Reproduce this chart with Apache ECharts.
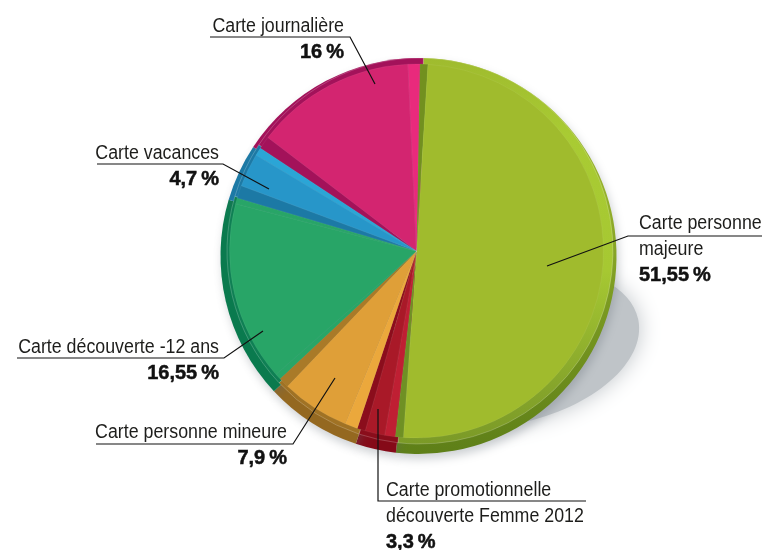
<!DOCTYPE html>
<html>
<head>
<meta charset="utf-8">
<style>html,body{margin:0;padding:0;background:#fff}#chart{width:763px;height:550px}</style>
<script src="https://cdn.jsdelivr.net/npm/echarts@6/dist/echarts.min.js"></script>
</head>
<body>
<div id="chart"></div>
<script>
// clockwise from the top of the pie
var categories = ["Carte personne\nmajeure", "Carte promotionnelle\ndécouverte Femme 2012", "Carte personne mineure", "Carte découverte -12 ans", "Carte vacances", "Carte journalière"];
var shares = [51.55, 3.3, 7.9, 16.55, 4.7, 16];
var shareLabels = ["51,55\u2009%", "3,3\u2009%", "7,9\u2009%", "16,55\u2009%", "4,7\u2009%", "16\u2009%"];

function vgrad(stops) {
    return new echarts.graphic.LinearGradient(0, 0, 0, 1, stops.map(function (s) {
        return {offset: s[0], color: s[1]};
    }));
}

// per slice look: rim, bevel, lead side, face, trail side (side widths are in % of the pie)
var looks = [
    {rim: vgrad([[0, "#a0bb2e"], [0.35, "#94b02a"], [0.6, "#7c9b22"], [1, "#5e7f18"]]),
     bevel: vgrad([[0, "#9fbb2e"], [0.2, "#a9cb33"], [0.55, "#a6c832"], [0.85, "#86a52b"], [1, "#7b9a27"]]),
     lead: "#72901f", face: "#a0bb2d", trail: "#6f9024", leadW: 0.7, trailW: 0.7},
    {rim: "#850a18", bevel: "#8a0d1b", lead: "#bf1f33", face: "#a91928", trail: "#8b0d1c", leadW: 0.9, trailW: 0.7},
    {rim: "#946820", bevel: "#a07224", lead: "#eba83c", face: "#df9f38", trail: "#a97a28", leadW: 1.1, trailW: 0.9},
    {rim: "#0a7a4e", bevel: "#0f8054", lead: "#28a567", face: "#28a567", trail: "#28a567", leadW: 0.5, trailW: 0.5},
    {rim: "#1c79a5", bevel: "#1c79a5", lead: "#1c79a5", face: "#2796c9", trail: "#2ba5d6", leadW: 1.1, trailW: 0.7},
    {rim: "#a3125a", bevel: "#a3125a", lead: "#a3125a", face: "#d32570", trail: "#e92a7c", leadW: 1.1, trailW: 1.0}
];

// leader line of each callout, and where its text sits
var callouts = [
    {line: [[762, 236], [628, 236], [547, 266]], x: 639, y: [223, 249, 275], align: "left"},
    {line: [[586, 501], [378, 501], [378, 409]], x: 386, y: [490, 516, 542], align: "left"},
    {line: [[96, 444], [293, 444], [335, 378]], x: 287, y: [432, 458], align: "right"},
    {line: [[17, 358], [224, 358], [263, 331]], x: 219, y: [347, 373], align: "right"},
    {line: [[97, 164], [223, 164], [269, 189]], x: 219, y: [153, 179], align: "right"},
    {line: [[210, 37], [350, 37], [375, 84]], x: 344, y: [26, 52], align: "right"}
];

var startAngle = 89;

var rimData = shares.map(function (v, i) {
    return {value: v, itemStyle: {color: looks[i].rim}};
});
var bevelData = shares.map(function (v, i) {
    return {value: v, itemStyle: {color: looks[i].bevel}};
});
var faceData = [];
shares.forEach(function (v, i) {
    var k = looks[i];
    faceData.push({value: k.leadW, itemStyle: {color: k.lead}});
    faceData.push({value: v - k.leadW - k.trailW, itemStyle: {color: k.face}});
    faceData.push({value: k.trailW, itemStyle: {color: k.trail}});
});

function pieLayer(data, center, radius, style, z) {
    return {
        type: "pie",
        silent: true,
        animation: false,
        clockwise: true,
        startAngle: startAngle,
        center: center,
        radius: [0, radius],
        label: {show: false},
        labelLine: {show: false},
        emphasis: {disabled: true},
        itemStyle: style,
        z: z,
        data: data
    };
}

var graphics = [{
    type: "ellipse",
    x: 503,
    y: 347,
    rotation: 0.2,
    shape: {cx: 0, cy: 0, rx: 138, ry: 78},
    style: {fill: "#bfc4c8", shadowBlur: 22, shadowColor: "#bfc4c8"},
    z: 0,
    silent: true
}];

callouts.forEach(function (c, i) {
    graphics.push({
        type: "polyline",
        shape: {points: c.line},
        style: {stroke: "#111", lineWidth: 1.2, fill: null},
        z: 100,
        silent: true
    });
    var lines = categories[i].split("\n");
    lines.forEach(function (t, j) {
        graphics.push({
            type: "text",
            x: c.x,
            y: c.y[j],
            scaleX: 0.89,
            z: 100,
            silent: true,
            style: {text: t, fill: "#1d1d1b", align: c.align, verticalAlign: "middle", font: "20px 'Liberation Sans'"}
        });
    });
    graphics.push({
        type: "text",
        x: c.x,
        y: c.y[lines.length],
        z: 100,
        silent: true,
        style: {text: shareLabels[i], fill: "#111", align: c.align, verticalAlign: "middle", font: "bold 20px 'Liberation Sans'", stroke: "#111", lineWidth: 0.5}
    });
});

var chart = echarts.init(document.getElementById("chart"), null, {renderer: "canvas"});
chart.setOption({
    animation: false,
    backgroundColor: "#fff",
    graphic: graphics,
    series: [
        pieLayer(rimData, [418.5, 256], 198, {shadowBlur: 10, shadowColor: "rgba(90,100,110,.3)", shadowOffsetX: 2, shadowOffsetY: 5}, 2),
        pieLayer(bevelData, [420, 251], 193, {borderColor: "rgba(255,255,255,.3)", borderWidth: 0.7}, 3),
        pieLayer(faceData, [416.5, 251], 187, {borderColor: "rgba(255,255,255,.12)", borderWidth: 0.5}, 4)
    ]
});
</script>
</body>
</html>
